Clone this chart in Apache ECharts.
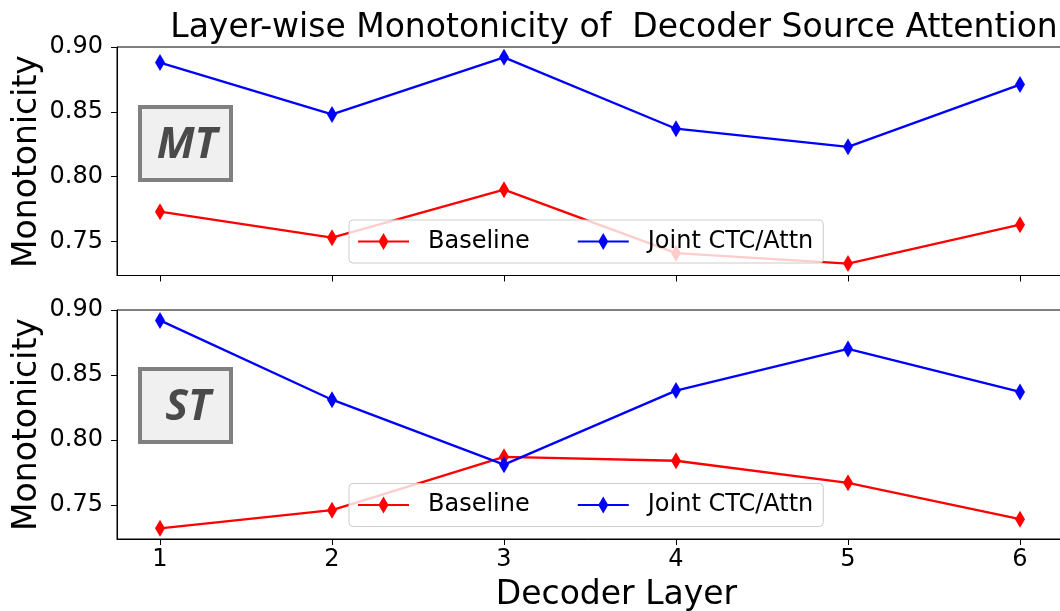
<!DOCTYPE html>
<html>
<head>
<meta charset="utf-8">
<script src="https://cdn.jsdelivr.net/npm/echarts@6/dist/echarts.min.js"></script>
<style>
  html, body { margin: 0; padding: 0; background: #fff; }
  #chart { width: 1060px; height: 611px; }
</style>
</head>
<body>
<div id="chart"></div>
<script>
// Decoder layers on the x axis
const layers = [1, 2, 3, 4, 5, 6];
const yTicks = [0.75, 0.80, 0.85, 0.90];

// MT panel
const mtBaseline = [0.773, 0.753, 0.790, 0.741, 0.733, 0.763];
const mtJoint    = [0.888, 0.848, 0.892, 0.837, 0.823, 0.871];

// ST panel
const stBaseline = [0.732, 0.746, 0.787, 0.784, 0.767, 0.739];
const stJoint    = [0.892, 0.831, 0.781, 0.838, 0.870, 0.837];

const FONT = 'DejaVu Sans';
const RED = '#ff0000';
const BLUE = '#0000ff';

// line + thin diamond legend glyph
const LEGEND_ICON = 'path://M0,7.4H51V9.6H0Z M25.5,0L30.5,8.5L25.5,17L20.5,8.5Z';

const chart = echarts.init(document.getElementById('chart'), null, { renderer: 'canvas' });

// the plot area runs past the right edge of the canvas
const grids = [
  { left: 117, top: 47, width: 946, height: 228.5 },
  { left: 117, top: 310, width: 946, height: 229 }
];

function xAxis(idx, showLabels) {
  return {
    type: 'value', gridIndex: idx, min: 0.75, max: 6.25,
    axisLine: { show: true, lineStyle: { color: '#000', width: 1 } },
    axisTick: { show: true, customValues: layers, length: 6, lineStyle: { color: '#000', width: 1 } },
    axisLabel: {
      show: showLabels, customValues: layers, margin: 9,
      fontFamily: FONT, fontSize: 24, color: '#000'
    },
    splitLine: { show: false }
  };
}

function yAxis(idx) {
  return {
    type: 'value', gridIndex: idx, min: 0.7238, max: 0.9,
    axisLine: { show: true, lineStyle: { color: '#000', width: 1 } },
    axisTick: { show: true, customValues: yTicks, length: 6, lineStyle: { color: '#000', width: 1 } },
    axisLabel: {
      customValues: yTicks, margin: 14,
      fontFamily: FONT, fontSize: 24, color: '#000',
      formatter: v => v.toFixed(2)
    },
    splitLine: { show: false }
  };
}

function lineSeries(name, vals, color, idx) {
  return {
    type: 'line', name: name, xAxisIndex: idx, yAxisIndex: idx,
    data: layers.map((x, i) => [x, vals[i]]),
    symbol: 'diamond', symbolSize: [10, 17], showSymbol: true,
    lineStyle: { color: color, width: 2.3 },
    itemStyle: { color: color },
    emphasis: { disabled: true }
  };
}

function legend(top) {
  return {
    left: 349, top: top, orient: 'horizontal',
    data: [
      { name: 'Baseline', icon: LEGEND_ICON },
      { name: 'Joint CTC/Attn', icon: LEGEND_ICON }
    ],
    itemWidth: 51, itemHeight: 17, itemGap: 48,
    padding: [9, 10, 9, 9],
    backgroundColor: 'rgba(255,255,255,0.8)',
    borderColor: '#cccccc', borderWidth: 1, borderRadius: 4,
    selectedMode: false,
    textStyle: { fontFamily: FONT, fontSize: 24, color: '#000', lineHeight: 25, padding: [0, 0, 0, 14] }
  };
}

function tagBox(label, x, y, w, h, tx, ty) {
  return [
    {
      type: 'rect', z: 10,
      shape: { x: x, y: y, width: w, height: h },
      style: { fill: '#f0f0f0', stroke: '#808080', lineWidth: 4 }
    },
    {
      type: 'text', z: 11, x: tx, y: ty,
      style: {
        text: label, fill: '#4a4a4a', align: 'center', verticalAlign: 'middle',
        font: 'italic bold 43px "Open Sans"'
      }
    }
  ];
}

const option = {
  animation: false,
  backgroundColor: '#ffffff',
  grid: grids.map(g => Object.assign({
    show: true, borderColor: '#000', borderWidth: 1, backgroundColor: 'transparent',
    containLabel: false, outerBoundsMode: 'none'
  }, g)),
  xAxis: [xAxis(0, false), xAxis(1, true)],
  yAxis: [yAxis(0), yAxis(1)],
  legend: [legend(220), legend(483.5)],
  series: [
    lineSeries('Baseline', mtBaseline, RED, 0),
    lineSeries('Joint CTC/Attn', mtJoint, BLUE, 0),
    lineSeries('Baseline', stBaseline, RED, 1),
    lineSeries('Joint CTC/Attn', stJoint, BLUE, 1)
  ],
  graphic: [
    {
      type: 'text', x: 614, y: 28,
      style: {
        text: 'Layer-wise Monotonicity of  Decoder Source Attention',
        fill: '#000', align: 'center', verticalAlign: 'middle',
        font: '33px "DejaVu Sans"'
      }
    },
    {
      type: 'text', x: 616.5, y: 595,
      style: {
        text: 'Decoder Layer', fill: '#000', align: 'center', verticalAlign: 'middle',
        font: '33px "DejaVu Sans"'
      }
    },
    {
      type: 'text', x: 27, y: 161.5, rotation: Math.PI / 2,
      style: {
        text: 'Monotonicity', fill: '#000', align: 'center', verticalAlign: 'middle',
        font: '33px "DejaVu Sans"'
      }
    },
    {
      type: 'text', x: 27, y: 424.5, rotation: Math.PI / 2,
      style: {
        text: 'Monotonicity', fill: '#000', align: 'center', verticalAlign: 'middle',
        font: '33px "DejaVu Sans"'
      }
    },
    ...tagBox('MT', 140, 107, 91, 73, 187, 146),
    ...tagBox('ST', 140, 369, 91, 73, 188, 408)
  ]
};

chart.setOption(option);
</script>
</body>
</html>
